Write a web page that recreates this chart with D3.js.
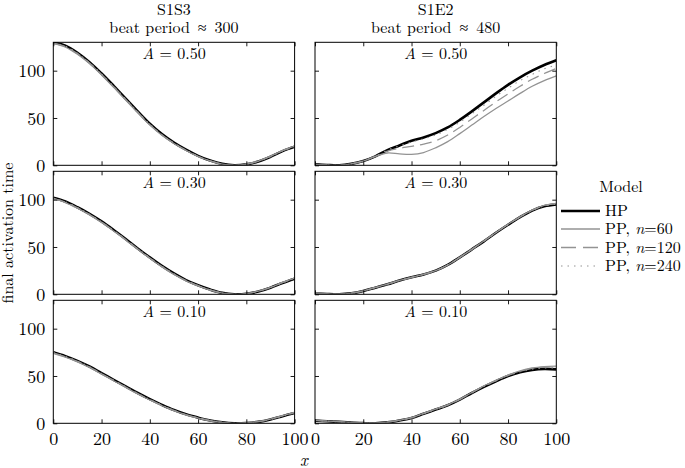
<!DOCTYPE html>
<html>
<head>
<meta charset="utf-8">
<script src="https://cdn.jsdelivr.net/npm/d3@7"></script>
<style>
  body { margin: 0; background: #fff; }
  svg text { font-family: "Latin Modern Roman", "CMU Serif", "Liberation Serif", serif; fill: #000; }
</style>
</head>
<body>
<svg id="chart"></svg>
<script>
// x positions shared by all curves
var xs = [0, 5, 10, 15, 20, 25, 30, 35, 40, 45, 50, 55, 60, 65, 70, 75, 80, 85, 90, 95, 100];

// S1S3, A = 0.50
var s1s3_a50_hp    = [130, 126.5, 119, 109, 97, 84, 70.5, 57, 44, 33, 24, 16.5, 10, 5, 1.5, 0, 1, 4, 9, 15, 19.5];
var s1s3_a50_pp60  = [128.5, 125, 117.5, 107.5, 95.5, 82.5, 69, 55.5, 42.5, 31.8, 23, 15.6, 9.3, 4.6, 1.2, 0, 1.2, 4.5, 9.6, 15.6, 20.2];
var s1s3_a50_pp120 = [129, 125.5, 118, 108, 96, 83, 69.5, 56, 43, 32.2, 23.3, 15.9, 9.5, 4.7, 1.3, 0, 1.1, 4.3, 9.4, 15.4, 20];
var s1s3_a50_pp240 = [129.5, 126, 118.5, 108.5, 96.5, 83.5, 70, 56.5, 43.5, 32.6, 23.6, 16.2, 9.7, 4.8, 1.4, 0, 1, 4.1, 9.1, 15.1, 19.7];

// S1S3, A = 0.30
var s1s3_a30_hp    = [102, 98, 92, 85, 77, 68, 58.5, 48.5, 39, 30, 22, 15, 9.5, 5, 1.5, 0, 0.5, 3, 7, 12, 16.5];
var s1s3_a30_pp60  = [101, 97, 91, 84, 76, 67, 57.5, 47.5, 38, 29, 21, 14.2, 8.8, 4.5, 1.2, 0, 0.7, 3.3, 7.4, 12.5, 17.2];
var s1s3_a30_pp120 = [101.4, 97.4, 91.4, 84.4, 76.4, 67.4, 57.9, 47.9, 38.4, 29.4, 21.4, 14.5, 9.1, 4.7, 1.3, 0, 0.6, 3.2, 7.2, 12.3, 16.9];
var s1s3_a30_pp240 = [101.7, 97.7, 91.7, 84.7, 76.7, 67.7, 58.2, 48.2, 38.7, 29.7, 21.7, 14.8, 9.3, 4.8, 1.4, 0, 0.5, 3.1, 7.1, 12.1, 16.7];

// S1S3, A = 0.10
var s1s3_a10_hp    = [75, 71, 66, 60, 53, 46, 39, 32, 25.5, 19.5, 14, 9.5, 6, 3, 1, 0, 0.3, 1.5, 4, 7.5, 11];
var s1s3_a10_pp60  = [74, 70, 65, 59, 52, 45, 38, 31, 24.6, 18.7, 13.3, 9, 5.6, 2.7, 0.8, 0, 0.5, 1.8, 4.4, 8, 11.6];
var s1s3_a10_pp120 = [74.4, 70.4, 65.4, 59.4, 52.4, 45.4, 38.4, 31.4, 24.9, 19, 13.6, 9.2, 5.8, 2.8, 0.9, 0, 0.4, 1.7, 4.2, 7.8, 11.3];
var s1s3_a10_pp240 = [74.7, 70.7, 65.7, 59.7, 52.7, 45.7, 38.7, 31.7, 25.2, 19.3, 13.8, 9.4, 5.9, 2.9, 1, 0, 0.3, 1.6, 4.1, 7.6, 11.1];

// S1E2, A = 0.50
var s1e2_a50_hp    = [1, 0.3, 0, 1.5, 4.5, 9.5, 16, 21, 26, 29.5, 34, 40, 48, 57, 66.5, 76, 85, 93, 100, 106, 111];
var s1e2_a50_pp60  = [1, 0.3, 0, 1.5, 4.5, 9.3, 13, 12, 11.5, 13.5, 18.5, 25, 33.5, 42.5, 51.5, 60, 68, 76, 83.5, 89.5, 94.5];
var s1e2_a50_pp120 = [1, 0.3, 0, 1.5, 4.5, 9.5, 15, 18, 20, 22.5, 26, 32, 40, 49, 58, 67, 75.5, 83.5, 91, 97, 102.5];
var s1e2_a50_pp240 = [1, 0.3, 0, 1.5, 4.5, 9.5, 16, 20.5, 24.5, 28, 32, 38, 45.5, 54.5, 63.5, 73, 81.5, 89.5, 96, 102, 106];

// S1E2, A = 0.30
var s1e2_a30_hp    = [1, 0.3, 0, 1, 3.5, 7, 10.5, 14.5, 18, 21, 25, 31, 39, 47.5, 56, 65, 73.5, 81.5, 88.5, 93, 95];
var s1e2_a30_pp60  = [1.5, 0.6, 0.2, 1.2, 3.7, 7.2, 10.7, 14.6, 18, 21, 25, 31, 39, 47.5, 56.3, 65.4, 74, 82, 89, 94, 96.2];
var s1e2_a30_pp120 = [1.3, 0.5, 0.1, 1.1, 3.6, 7.1, 10.6, 14.5, 18, 21, 25, 31, 39, 47.5, 56.2, 65.2, 73.8, 81.8, 88.8, 93.6, 95.8];
var s1e2_a30_pp240 = [1.1, 0.4, 0, 1, 3.5, 7, 10.5, 14.5, 18, 21, 25, 31, 39, 47.5, 56.1, 65.1, 73.6, 81.6, 88.6, 93.3, 95.4];

// S1E2, A = 0.10
var s1e2_a10_hp    = [2.8, 2.2, 1.5, 0.8, 0.2, 0, 1, 3, 5.5, 10, 14.5, 19, 25, 32, 38.5, 44.5, 50, 54, 56.5, 57.5, 57];
var s1e2_a10_pp60  = [3, 2.4, 1.7, 1, 0.4, 0.2, 1.2, 3.3, 6, 10.5, 15, 19.5, 25.5, 32.5, 39.5, 45.5, 51, 55.5, 58.5, 60, 60.5];
var s1e2_a10_pp120 = [3, 2.4, 1.6, 0.9, 0.3, 0.1, 1.1, 3.2, 5.8, 10.3, 14.8, 19.3, 25.3, 32.3, 39.2, 45.2, 50.7, 55, 58, 59.5, 60];
var s1e2_a10_pp240 = [2.9, 2.3, 1.5, 0.8, 0.2, 0, 1, 3.1, 5.6, 10.1, 14.6, 19.1, 25.1, 32.1, 38.8, 44.8, 50.3, 54.5, 57.3, 58.5, 58.5];

var colTitles = ["S1S3", "S1E2"];
var colPeriods = ["300", "480"];
var rowLabels = ["0.50", "0.30", "0.10"];
var xTicks = [0, 20, 40, 60, 80, 100];
var yTicks = [0, 50, 100];
var models = ["HP", "PP, n=60", "PP, n=120", "PP, n=240"];

// panel table built from the arrays above
var panels = [
  [[s1s3_a50_hp, s1s3_a50_pp60, s1s3_a50_pp120, s1s3_a50_pp240],
   [s1e2_a50_hp, s1e2_a50_pp60, s1e2_a50_pp120, s1e2_a50_pp240]],
  [[s1s3_a30_hp, s1s3_a30_pp60, s1s3_a30_pp120, s1s3_a30_pp240],
   [s1e2_a30_hp, s1e2_a30_pp60, s1e2_a30_pp120, s1e2_a30_pp240]],
  [[s1s3_a10_hp, s1s3_a10_pp60, s1s3_a10_pp120, s1s3_a10_pp240],
   [s1e2_a10_hp, s1e2_a10_pp60, s1e2_a10_pp120, s1e2_a10_pp240]]
];

var svgWidth = 685, svgHeight = 468;
var colX = [53.3, 315];
var panelW = 241.3;
var rowY = [42.3, 171.3, 300.3];
var panelH = 123;
var gray = "#939393";

var styles = [
  {stroke: "#000", width: 2.6, dash: null},
  {stroke: gray, width: 1.3, dash: null},
  {stroke: gray, width: 1.3, dash: "12,6"},
  {stroke: gray, width: 1.1, dash: "1.5,5"}
];

var svg = d3.select("#chart")
    .attr("width", svgWidth)
    .attr("height", svgHeight);

var xScale = d3.scaleLinear().domain([0, 100]).range([0, panelW]);
var yScale = d3.scaleLinear().domain([0, 130]).range([panelH, 0]);

var line = d3.line()
    .x(function(d) { return xScale(d[0]); })
    .y(function(d) { return yScale(d[1]); })
    .curve(d3.curveCatmullRom.alpha(0.5));

svg.append("defs").append("clipPath")
    .attr("id", "clip")
  .append("rect")
    .attr("width", panelW)
    .attr("height", panelH);

for (var r = 0; r < 3; r++) {
  for (var c = 0; c < 2; c++) {
    var g = svg.append("g")
        .attr("transform", "translate(" + colX[c] + "," + rowY[r] + ")");

    var plot = g.append("g").attr("clip-path", "url(#clip)");
    panels[r][c].forEach(function(vals, i) {
      var pts = xs.map(function(x, j) { return [x, vals[j]]; });
      plot.append("path")
          .datum(pts)
          .attr("fill", "none")
          .attr("stroke", styles[i].stroke)
          .attr("stroke-width", styles[i].width)
          .attr("stroke-dasharray", styles[i].dash)
          .attr("d", line);
    });

    // inward ticks on all four sides
    var axB = g.append("g").attr("transform", "translate(0," + panelH + ")")
        .call(d3.axisBottom(xScale).tickValues(xTicks).tickSizeInner(-4).tickSizeOuter(0)
              .tickFormat(r == 2 ? d3.format("d") : ""));
    var axT = g.append("g")
        .call(d3.axisTop(xScale).tickValues(xTicks).tickSizeInner(-4).tickSizeOuter(0).tickFormat(""));
    var axL = g.append("g")
        .call(d3.axisLeft(yScale).tickValues(yTicks).tickSizeInner(-4).tickSizeOuter(0)
              .tickFormat(c == 0 ? d3.format("d") : ""));
    var axR = g.append("g").attr("transform", "translate(" + panelW + ",0)")
        .call(d3.axisRight(yScale).tickValues(yTicks).tickSizeInner(-4).tickSizeOuter(0).tickFormat(""));

    [axB, axT, axL, axR].forEach(function(a) {
      a.select(".domain").remove();
      a.selectAll("line").attr("stroke", "#000").attr("stroke-width", 0.9);
      a.selectAll("text").style("font-size", "18px").attr("fill", "#000")
          .style("font-family", "'Latin Modern Roman', 'CMU Serif', 'Liberation Serif', serif");
    });
    axB.selectAll("text").attr("y", 9).attr("dy", "0.71em");
    axL.selectAll("text").attr("x", -8).attr("dy", "0.35em");

    g.append("rect")
        .attr("width", panelW)
        .attr("height", panelH)
        .attr("fill", "none")
        .attr("stroke", "#000")
        .attr("stroke-width", 1);

    var lab = g.append("text")
        .attr("x", panelW / 2)
        .attr("y", 16.5)
        .attr("text-anchor", "middle")
        .style("font-size", "16px");
    lab.append("tspan").style("font-style", "italic").text("A");
    lab.append("tspan").text(" = " + rowLabels[r]);
  }
}

// column titles
for (var c = 0; c < 2; c++) {
  svg.append("text")
      .attr("x", colX[c] + panelW / 2)
      .attr("y", 14.5)
      .attr("text-anchor", "middle")
      .style("font-size", "16px")
      .text(colTitles[c]);
  var sub = svg.append("text")
      .attr("x", colX[c] + panelW / 2)
      .attr("y", 32.5)
      .attr("text-anchor", "middle")
      .style("font-size", "16px");
  sub.append("tspan").text("beat period");
  sub.append("tspan").attr("dx", 8).text("\u2248");
  sub.append("tspan").attr("dx", 8).text(colPeriods[c]);
}

// axis titles
svg.append("text")
    .attr("transform", "translate(13,233) rotate(-90)")
    .attr("text-anchor", "middle")
    .style("font-size", "16px")
    .text("final activation time");

svg.append("text")
    .attr("x", 304)
    .attr("y", 466)
    .attr("text-anchor", "middle")
    .style("font-size", "17px")
    .style("font-style", "italic")
    .text("x");

// legend
var legend = svg.append("g").attr("transform", "translate(561,0)");
legend.append("text")
    .attr("x", 60)
    .attr("y", 192)
    .attr("text-anchor", "middle")
    .style("font-size", "16px")
    .text("Model");

var legendY = [211, 229, 247.5, 266];
models.forEach(function(m, i) {
  legend.append("line")
      .attr("x1", 0).attr("x2", 39)
      .attr("y1", legendY[i]).attr("y2", legendY[i])
      .attr("stroke", styles[i].stroke)
      .attr("stroke-width", styles[i].width)
      .attr("stroke-dasharray", i == 2 ? "15,7" : styles[i].dash);
  var t = legend.append("text")
      .attr("x", 44)
      .attr("y", legendY[i] + 5)
      .style("font-size", "16px");
  if (i == 0) {
    t.text("HP");
  } else {
    t.append("tspan").text("PP, ");
    t.append("tspan").style("font-style", "italic").text("n");
    t.append("tspan").text("=" + m.split("=")[1]);
  }
});
</script>
</body>
</html>
